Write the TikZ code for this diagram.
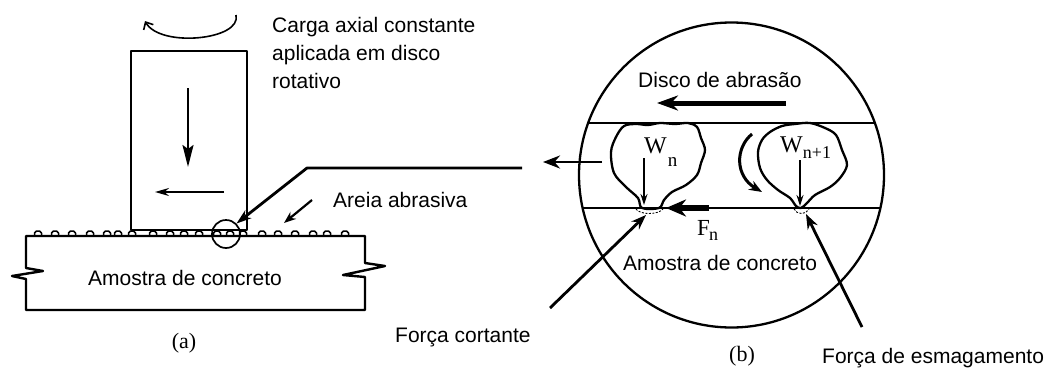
\documentclass[tikz,border=0pt]{standalone}
\usepackage{fontspec}
\setmainfont{Liberation Sans}
\newfontfamily\serifface{Liberation Serif}
\usetikzlibrary{arrows.meta}

\begin{document}
\begin{tikzpicture}[x=1pt,y=-1pt,line join=round,
  outline/.style={draw=black,line width=2.4pt},
  grain/.style={draw=black,line width=1.5pt},
  label/.style={font=\fontsize{21}{28}\selectfont,inner sep=0pt},
  sym/.style={font=\serifface\fontsize{24}{26}\selectfont,inner sep=0pt},
  capt/.style={font=\serifface\fontsize{22}{24}\selectfont,inner sep=0pt},
  thinarrow/.style={line width=1.4pt,-{Stealth[length=11pt,width=7pt]}},
  forcearrow/.style={line width=2.8pt,-{Stealth[length=15pt,width=11pt]}},
  blob/.style={draw=black,line width=2.3pt},
  contact/.style={line width=0.9pt,dash pattern=on 2pt off 1.5pt}]
\useasboundingbox (0,0) rectangle (1054,367);

% ---------- (a) loading device ----------
% rotation of the disc
\coordinate (rotA) at (236,15);
\coordinate (rotB) at (145,21);
\draw[line width=1.6pt,-{Straight Barb[length=6pt,width=11pt]}]
  (rotA) .. controls (242,40) and (160,48) .. (rotB);

% loading block
\draw[outline] (131,51) rectangle (247,230);
\coordinate (loadTop) at (188,88);
\coordinate (loadBot) at (188,167);
\draw[line width=2.2pt,-{Stealth[length=22pt,width=11pt,inset=4pt]}] (loadTop) -- (loadBot);
\coordinate (slideR) at (224,192);
\coordinate (slideL) at (155,192);
\draw[line width=1.8pt,-{Stealth[length=14pt,width=8pt]}] (slideR) -- (slideL);

% concrete specimen with break lines
\draw[outline] (26,236) -- (365,236) -- (365,263) -- (385,266) -- (343,275)
  -- (365,277) -- (365,310) -- (26,310) -- (26,279) -- (12,276) -- (43,271)
  -- (26,268) -- cycle;

% abrasive sand grains
\foreach \gx in {38,55,72,90,107,118,132,153,170,184,199,217,230,243,262,278,295,313,327,345}
  \draw[grain] ({\gx-3.5},236) -- ({\gx-3.5},233) -- ({\gx-1.5},231) -- ({\gx+1.5},231)
    -- ({\gx+3.5},233) -- ({\gx+3.5},236);

% detail circle and leader
\node[draw,line width=1.7pt,circle,minimum size=28pt,inner sep=0pt] (detail) at (226,234) {};
\coordinate (leadEnd) at (522,168);
\coordinate (leadBend) at (307,168);
\draw[line width=2.8pt,-{Stealth[length=15pt,width=10pt]}] (leadEnd) -- (leadBend) -- (detail.45);

% sand pointer
\coordinate (sandFrom) at (312,200);
\coordinate (sandTo) at (284,223);
\draw[line width=2.2pt,-{Stealth[length=12pt,width=9pt]}] (sandFrom) -- (sandTo);

\node[label,anchor=base west] (carga1) at (272,32) {Carga axial constante};
\node[label,anchor=base west] (carga2) at (272,60) {aplicada em disco};
\node[label,anchor=base west] (carga3) at (272,88) {rotativo};
\node[label,anchor=base west] (areia) at (333,207) {Areia abrasiva};
\node[label,anchor=base] (amostraA) at (185,285) {Amostra de concreto};
\node[capt,anchor=base] (capA) at (184,348) {(a)};

% ---------- (b) detail view ----------
\node[draw,line width=2.3pt,circle,minimum size=305pt,inner sep=0pt] (zoomc) at (731.5,175) {};
\begin{scope}
  \clip (731.5,175) circle[radius=152.5];
  \draw[line width=2pt] (560,123) -- (900,123);
  \draw[line width=2pt] (560,208) -- (900,208);
\end{scope}

\node[label,anchor=base west] (disco) at (638,87) {Disco de abrasão};
\coordinate (discR) at (786,103);
\coordinate (discL) at (657,103);
\draw[line width=5pt,-{Stealth[length=21pt,width=15pt]}] (discR) -- (discL);

\coordinate (outR) at (602,162);
\coordinate (outL) at (543,162);
\draw[line width=2.6pt,-{Stealth[length=17pt,width=13pt]}] (outR) -- (outL);

% grain n
\draw[blob] plot[smooth cycle,tension=0.55] coordinates {
  (624,126) (636,124) (648,125) (660,123) (675,124) (688,123) (697,127)
  (701,138) (705,150) (701,163) (697,175) (686,185) (672,192) (664,200)
  (659,208) (642,208) (638,198) (626,187) (614,173) (611,152) (616,137)};
\node[sym,anchor=base west] (wn) at (644,153) {W\kern1pt\raisebox{-13pt}{\fontsize{19}{20}\selectfont n}};
\coordinate (wnTop) at (644,158);
\coordinate (wnBot) at (644,205);
\draw[thinarrow] (wnTop) -- (wnBot);
\draw[contact] (636,209) .. controls (640,215) and (658,215) .. (663,209);

% grain n+1
\draw[blob] plot[smooth cycle,tension=0.55] coordinates {
  (770,132) (782,126) (795,124) (810,123) (825,128) (836,135) (842,150)
  (847,165) (840,178) (830,187) (815,195) (807,203) (801,208) (796,206)
  (790,198) (778,190) (767,180) (760,168) (758,152) (762,140)};
\node[sym,anchor=base west] (wn1) at (780,152) {W\kern0pt\raisebox{-6pt}{\fontsize{18}{20}\selectfont n+1}};
\coordinate (wn1Top) at (800,160);
\coordinate (wn1Bot) at (800,206);
\draw[thinarrow] (wn1Top) -- (wn1Bot);
\draw[contact] (794,209) .. controls (797,215) and (806,215) .. (809,209);

% rolling motion
\coordinate (rollA) at (752,134);
\coordinate (rollB) at (762,192);
\draw[line width=3pt,-{Stealth[length=13pt,width=10pt]}]
  (rollA) .. controls (735,148) and (735,176) .. (rollB);

% friction force
\coordinate (fnR) at (709,208);
\coordinate (fnL) at (666,208);
\draw[line width=5.5pt,-{Stealth[length=20pt,width=17pt]}] (fnR) -- (fnL);
\node[anchor=base west,inner sep=0pt,font=\serifface\fontsize{23}{24}\selectfont] (fn) at (697,235)
  {F\kern-1pt\raisebox{-5pt}{\fontsize{18}{20}\selectfont n}};

\node[label,anchor=base west] (amostraB) at (623,270) {Amostra de concreto};

% shear and crushing forces
\node[label,anchor=base west] (cortante) at (395,342) {Força cortante};
\node[label,anchor=base west] (esmag) at (822,363) {Força de esmagamento};
\coordinate (shearFrom) at (550,308);
\coordinate (shearTo) at (646,215);
\draw[forcearrow] (shearFrom) -- (shearTo);
\coordinate (crushFrom) at (862,327);
\coordinate (crushTo) at (806,214);
\draw[forcearrow] (crushFrom) -- (crushTo);

\node[capt,anchor=base] (capB) at (742,361) {(b)};
\end{tikzpicture}
\end{document}
